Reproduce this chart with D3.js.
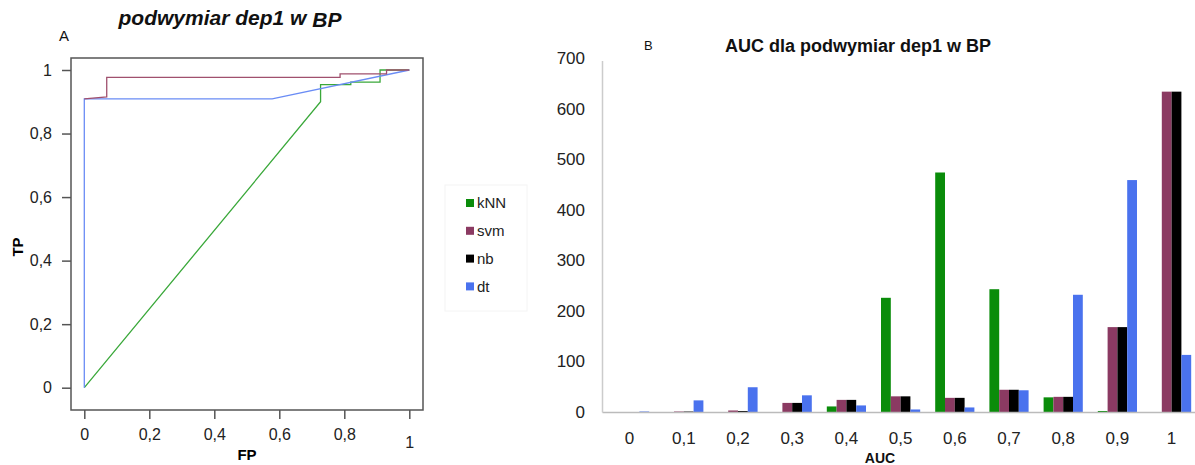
<!DOCTYPE html>
<html><head><meta charset="utf-8">
<script src="https://cdn.jsdelivr.net/npm/d3@7"></script>
<style>body{margin:0;background:#fff;font-family:"Liberation Sans",Arial,sans-serif;}</style>
</head><body><svg id="c" width="1195" height="465"></svg>
<script>
// ---- ROC data (left panel) ----
const rocKNN = [[0,0],[0.727,0.900],[0.727,0.954],[0.82,0.954],[0.82,0.962],[0.91,0.962],[0.91,1.0],[1,1]];
const rocSVM = [[0,0.909],[0.069,0.915],[0.069,0.977],[0.787,0.977],[0.787,0.988],[0.93,0.988],[0.93,1.0],[1,1]];
const rocDT  = [[0,0],[0,0.909],[0.578,0.909],[1,1]];
const rocTicks = [0,0.2,0.4,0.6,0.8,1];

// ---- AUC histogram data (right panel) ----
const aucCategories = ["0","0,1","0,2","0,3","0,4","0,5","0,6","0,7","0,8","0,9","1"];
const seriesNames = ["kNN","svm","nb","dt"];
const kNN = [0,0,0,0,11,226,474,243,29,2,0];
const svm = [0,1,3,18,24,31,28,44,30,168,634];
const nb  = [0,1,2,18,24,31,28,44,30,168,634];
const dt  = [1,23,49,33,13,5,9,43,232,459,113];
const yTicks = [0,100,200,300,400,500,600,700];

const svg = d3.select("#c");
const fmt = v => String(+v.toFixed(1)).replace(".", ",");

// ===== Left panel =====
const xL = d3.scaleLinear().domain([0,1]).range([84.3,409.3]);
const yL = d3.scaleLinear().domain([0,1]).range([387.7,70]);
const L = svg.append("g");
L.append("rect").attr("x",71).attr("y",58).attr("width",352).attr("height",352)
  .attr("fill","none").attr("stroke","#555").attr("stroke-width",1.5);
const axB = L.append("g").attr("transform","translate(0,410)")
  .call(d3.axisBottom(xL).tickValues(rocTicks).tickFormat(fmt).tickSize(9).tickSizeOuter(0));
axB.select(".domain").remove();
axB.selectAll("line").attr("stroke","#555").attr("stroke-width",1.5);
axB.selectAll("text").attr("font-size",16).attr("fill","#222").attr("dy","1.15em")
  .attr("font-family","Liberation Sans, Arial, sans-serif")
  .filter(d=>d===1).attr("dy","1.6em");
const axLf = L.append("g").attr("transform","translate(71,0)")
  .call(d3.axisLeft(yL).tickValues(rocTicks).tickFormat(fmt).tickSize(9).tickSizeOuter(0));
axLf.select(".domain").remove();
axLf.selectAll("line").attr("stroke","#555").attr("stroke-width",1.5);
axLf.selectAll("text").attr("font-size",16).attr("fill","#222").attr("x",-19)
  .attr("font-family","Liberation Sans, Arial, sans-serif");
const line = d3.line().x(d=>xL(d[0])).y(d=>yL(d[1]));
L.append("path").datum(rocKNN).attr("d",line).attr("fill","none").attr("stroke","#3aa83a").attr("stroke-width",1.3);
L.append("path").datum(rocDT).attr("d",line).attr("fill","none").attr("stroke","#6a8cf5").attr("stroke-width",1.3);
L.append("path").datum(rocSVM).attr("d",line).attr("fill","none").attr("stroke","#a0506e").attr("stroke-width",1.3);
const t1 = L.append("text").attr("x",230).attr("y",25).attr("text-anchor","middle")
  .attr("font-size",21).attr("font-weight","bold").attr("font-style","italic").attr("fill","#111");
t1.append("tspan").text("podwymiar dep1 w ");
t1.append("tspan").attr("dy",2).text("BP");
L.append("text").attr("x",59).attr("y",41).attr("font-size",15).attr("fill","#111").text("A");
L.append("text").attr("x",247).attr("y",460).attr("text-anchor","middle").attr("font-size",15).attr("font-weight","bold").text("FP");
L.append("text").attr("transform","translate(23,247) rotate(-90)").attr("text-anchor","middle").attr("font-size",15).attr("font-weight","bold").text("TP");

// ===== Legend =====
const colors = {kNN:"#0a8c0a", svm:"#8b3a62", nb:"#000000", dt:"#4a72ee"};
const lg = svg.append("g");
lg.append("rect").attr("x",445).attr("y",185).attr("width",82).attr("height",126).attr("fill","none").attr("stroke","#f4f4f4");
seriesNames.forEach((n,i)=>{
  const y = 203 + i*27.8;
  lg.append("rect").attr("x",466).attr("y",y-4).attr("width",8).attr("height",8).attr("fill",colors[n]);
  lg.append("text").attr("x",477).attr("y",y).attr("dy","0.35em").attr("font-size",15).attr("fill","#222").text(n);
});

// ===== Right panel =====
const x0 = d3.scaleBand().domain(aucCategories).range([602.5,1198.7]).padding(0);
const x1 = d3.scaleBand().domain(seriesNames).range([x0.step()*0.1385, x0.step()*(1-0.1385)]).padding(0);
const yR = d3.scaleLinear().domain([0,700]).range([412,58.3]);
const R = svg.append("g");
const data = {kNN, svm, nb, dt};
seriesNames.forEach(n=>{
  R.append("g").selectAll("rect").data(aucCategories).join("rect")
    .attr("x",c=>x0(c)+x1(n)).attr("width",x1.bandwidth())
    .attr("y",(c,i)=>yR(data[n][i])).attr("height",(c,i)=>yR(0)-yR(data[n][i]))
    .attr("fill",colors[n]);
});
R.append("line").attr("x1",602.5).attr("x2",1195).attr("y1",412.5).attr("y2",412.5).attr("stroke","#bbb").attr("stroke-width",1.5);
R.append("line").attr("x1",602.5).attr("x2",602.5).attr("y1",61).attr("y2",412.5).attr("stroke","#ccc").attr("stroke-width",1.5);
const axR = R.append("g").attr("transform","translate(585,0)")
  .call(d3.axisLeft(yR).tickValues(yTicks).tickSize(0).tickPadding(0));
axR.select(".domain").remove();
axR.selectAll("text").attr("font-size",17).attr("fill","#222").attr("font-family","Liberation Sans, Arial, sans-serif");
const axRB = R.append("g").attr("transform","translate(0,412)")
  .call(d3.axisBottom(x0).tickSize(0).tickPadding(0));
axRB.select(".domain").remove();
axRB.selectAll("text").attr("font-size",17).attr("fill","#222").attr("dy","1.9em").attr("font-family","Liberation Sans, Arial, sans-serif");
R.append("text").attr("x",858).attr("y",52).attr("text-anchor","middle").attr("font-size",18).attr("font-weight","bold").attr("fill","#111").text("AUC dla podwymiar dep1 w BP");
R.append("text").attr("x",644).attr("y",50).attr("font-size",13).attr("fill","#111").text("B");
R.append("text").attr("x",880).attr("y",463).attr("text-anchor","middle").attr("font-size",14).attr("font-weight","bold").attr("fill","#111").text("AUC");
</script></body></html>
